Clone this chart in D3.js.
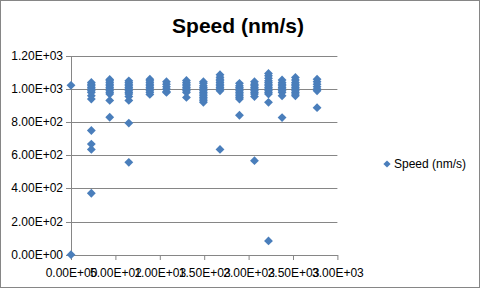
<!DOCTYPE html>
<html>
<head>
<meta charset="utf-8">
<script src="https://cdn.jsdelivr.net/npm/d3@7"></script>
<style>
  body { margin: 0; background: #fff; }
  svg { display: block; font-family: "Liberation Sans", Arial, sans-serif; }
</style>
</head>
<body>
<div id="chart"></div>
<script>
// ---- data: one column of speeds per measured time ----
const times = [0, 229, 436, 651, 888, 1075, 1300, 1491, 1678, 1897, 2066, 2224, 2377, 2527, 2771];
const speeds = [
  [1023, 0],
  [1040, 1030, 1020, 1010, 1000, 990, 980, 960, 940, 750, 668, 636, 371],
  [1058, 1050, 1040, 1030, 1020, 1010, 1000, 990, 980, 970, 932, 830],
  [1050, 1040, 1030, 1020, 1010, 1000, 990, 980, 970, 955, 932, 795, 558],
  [1060, 1050, 1040, 1030, 1020, 1010, 1000, 990, 980, 968],
  [1045, 1030, 1015, 1000, 985, 980],
  [1052, 1040, 1030, 1020, 1010, 1000, 990, 980, 950],
  [1045, 1035, 1020, 1010, 1000, 990, 980, 970, 960, 950, 940, 930, 920],
  [1087, 1072, 1060, 1050, 1040, 1030, 1020, 1010, 1000, 990, 636],
  [1035, 1020, 1010, 1000, 990, 980, 970, 960, 950, 940, 842],
  [1045, 1030, 1020, 1010, 1000, 990, 980, 970, 955, 568],
  [1095, 1080, 1065, 1050, 1040, 1030, 1020, 1010, 1000, 990, 980, 970, 920, 83],
  [1055, 1040, 1030, 1020, 1010, 1000, 990, 980, 960, 828],
  [1070, 1055, 1040, 1030, 1020, 1010, 1000, 990, 980, 970, 960],
  [1060, 1045, 1030, 1015, 1000, 990, 888]
];
const xTicks = [0, 500, 1000, 1500, 2000, 2500, 3000];
const yTicks = [0, 200, 400, 600, 800, 1000, 1200];
const seriesName = "Speed (nm/s)";
const title = "Speed (nm/s)";

const points = times.flatMap((t, i) => speeds[i].map(s => ({ t, s })));

// ---- layout ----
const W = 481, H = 289;
const blue = "#4A7EBB", grey = "#868686";

const svg = d3.select("#chart").append("svg")
  .attr("width", W)
  .attr("height", H);

svg.append("rect")
  .attr("x", 0.5).attr("y", 0.5)
  .attr("width", W - 2).attr("height", H - 2)
  .attr("fill", "#fff")
  .attr("stroke", grey);

const x = d3.scaleLinear().domain([0, 3000]).range([71, 337.4]);
const y = d3.scaleLinear().domain([0, 1200]).range([254.7, 56]);

// Excel style: 1.20E+03
const sci = d => {
  const [m, e] = d.toExponential(2).split("e");
  return m + "E" + e[0] + e.slice(1).padStart(2, "0");
};

// gridlines
svg.append("g")
  .selectAll("line")
  .data(yTicks.filter(d => d > 0))
  .join("line")
  .attr("x1", x(0)).attr("x2", x(3000))
  .attr("y1", d => Math.round(y(d)) + 0.5)
  .attr("y2", d => Math.round(y(d)) + 0.5)
  .attr("stroke", grey);

// axes
const yAxis = svg.append("g")
  .attr("transform", "translate(0,0)")
  .call(d3.axisLeft(y).tickValues(yTicks).tickFormat(sci).tickSize(5).tickPadding(3).offset(0));
yAxis.select(".domain").remove();
yAxis.selectAll(".tick line").attr("stroke", grey)
  .attr("transform", `translate(${x(0)},0.5)`);
yAxis.selectAll(".tick").attr("transform", d => `translate(0,${Math.round(y(d))})`);
yAxis.selectAll("text")
  .attr("x", x(0) - 8)
  .attr("fill", "#000")
  .style("font-size", "12px");

svg.append("line")
  .attr("x1", Math.round(x(0)) + 0.5).attr("x2", Math.round(x(0)) + 0.5)
  .attr("y1", y(1200)).attr("y2", y(0))
  .attr("stroke", grey);

const xAxis = svg.append("g")
  .attr("transform", `translate(0,${Math.round(y(0))})`)
  .call(d3.axisBottom(x).tickValues(xTicks).tickFormat(sci).tickSize(5).tickPadding(8).tickSizeOuter(0));
xAxis.select(".domain").attr("stroke", grey);
xAxis.selectAll(".tick line").attr("stroke", grey);
xAxis.selectAll("text")
  .attr("fill", "#000")
  .style("font-size", "12px");

// points
const diamond = d3.symbol(d3.symbolSquare, 39);
svg.append("g")
  .selectAll("path")
  .data(points)
  .join("path")
  .attr("d", diamond)
  .attr("transform", d => `translate(${x(d.t)},${y(d.s)}) rotate(45)`)
  .attr("fill", blue);

// title
svg.append("text")
  .attr("x", 238).attr("y", 33)
  .attr("text-anchor", "middle")
  .style("font-size", "21px")
  .style("font-weight", "bold")
  .text(title);

// legend
const legend = svg.append("g").attr("transform", "translate(387,164)");
legend.append("path")
  .attr("d", d3.symbol(d3.symbolSquare, 26))
  .attr("transform", "rotate(45)")
  .attr("fill", blue);
legend.append("text")
  .attr("x", 7).attr("dy", "0.35em")
  .style("font-size", "12px")
  .text(seriesName);
</script>
</body>
</html>
